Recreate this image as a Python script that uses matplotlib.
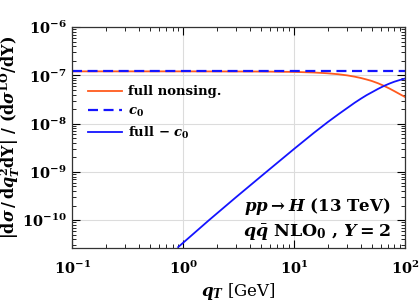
import numpy as np
import matplotlib
matplotlib.use("Agg")
import matplotlib.pyplot as plt

# data
qt_c0 = [0.1, 100.0]
c0 = [1.21e-7, 1.21e-7]

qt_full = [0.1, 1.0, 5.0, 10.0, 15.0, 20.0, 25.0, 30.0, 35.0, 40.0, 45.0, 50.0, 57.0, 64.0, 72.0, 80.0, 90.0, 100.0]
full_nonsing = [1.21e-7, 1.21e-7, 1.20e-7, 1.18e-7, 1.147e-7, 1.105e-7, 1.055e-7, 1.0e-7, 0.94e-7, 0.88e-7, 0.82e-7, 0.765e-7, 0.685e-7, 0.61e-7, 0.535e-7, 0.47e-7, 0.405e-7, 0.355e-7]

qt_diff = [0.9, 1.0, 1.71, 3.0, 5.5, 10.0, 15.0, 20.0, 25.0, 30.0, 35.0, 40.0, 45.0, 50.0, 57.0, 64.0, 72.0, 80.0, 90.0, 100.0]
full_minus_c0 = [2.75e-11, 3.4e-11, 1.0e-10, 3.0e-10, 9.6e-10, 3.0e-9, 6.4e-9, 1.07e-8, 1.56e-8, 2.1e-8, 2.7e-8, 3.3e-8, 3.9e-8, 4.45e-8, 5.25e-8, 6.0e-8, 6.75e-8, 7.4e-8, 8.05e-8, 8.6e-8]

plt.rcParams['mathtext.fontset'] = 'custom'
plt.rcParams['mathtext.rm'] = 'DejaVu Serif:bold'
plt.rcParams['mathtext.it'] = 'DejaVu Serif:bold:italic'
plt.rcParams['mathtext.bf'] = 'DejaVu Serif:bold'
plt.rcParams['font.family'] = 'DejaVu Serif'
plt.rcParams['font.weight'] = 'bold'

fig = plt.figure(figsize=(4.19, 3.05), dpi=100)
ax = fig.add_axes([0.1726, 0.186, 0.7944, 0.725])

orange = '#ff5a1e'
blue = '#1414ff'
ax.plot(qt_full, full_nonsing, color=orange, lw=1.3, label='full nonsing.')
ax.plot(qt_c0, c0, color=blue, lw=1.6, ls=(0, (4.5, 2.5)), label=r'$c_0$')
ax.plot(qt_diff, full_minus_c0, color=blue, lw=1.3, label=r'full $-\ c_0$')

ax.set_xscale('log')
ax.set_yscale('log')
ax.set_xlim(0.1, 100)
ax.set_ylim(2.6e-11, 1e-6)

ax.grid(True, which='major', color='#dcdcdc', lw=0.8)
ax.tick_params(which='both', direction='in', top=True, right=True, labelsize=10.5)
ax.tick_params(which='major', length=6, width=0.8)
ax.tick_params(axis='y', which='major', pad=4)
ax.tick_params(axis='x', which='major', pad=8)
ax.tick_params(which='minor', length=3, width=0.6)
ax.xaxis.set_minor_locator(matplotlib.ticker.LogLocator(base=10, subs=np.arange(2, 10), numticks=20))
ax.yaxis.set_minor_locator(matplotlib.ticker.LogLocator(base=10, subs=np.arange(2, 10), numticks=20))
for s in ax.spines.values():
    s.set_color('#333333')
    s.set_linewidth(0.9)

ax.set_xlabel(r'$q_T$ [GeV]', fontsize=12)
ax.xaxis.set_label_coords(0.5, -0.15)
ax.set_ylabel(r'$|\mathrm{d}\sigma\,/\,\mathrm{d}q_T^2\mathrm{dY}|\ /\ (\mathrm{d}\sigma^{\mathrm{LO}}/\mathrm{dY})$', fontsize=11.5)
ax.yaxis.set_label_coords(-0.152, 0.5)

leg = ax.legend(loc='upper left', bbox_to_anchor=(0.03, 0.76), frameon=False, fontsize=9.5,
                handlelength=2.6, handletextpad=0.5, labelspacing=0.45, borderaxespad=0)

ax.text(0.955, 0.19, r'$pp \to H$ (13 TeV)', transform=ax.transAxes, ha='right', va='center', fontsize=12)
ax.text(0.955, 0.07, r'$q\bar{q}$ NLO$_0$ , $Y = 2$', transform=ax.transAxes, ha='right', va='center', fontsize=12.5)

fig.savefig('out.png', dpi=100)
